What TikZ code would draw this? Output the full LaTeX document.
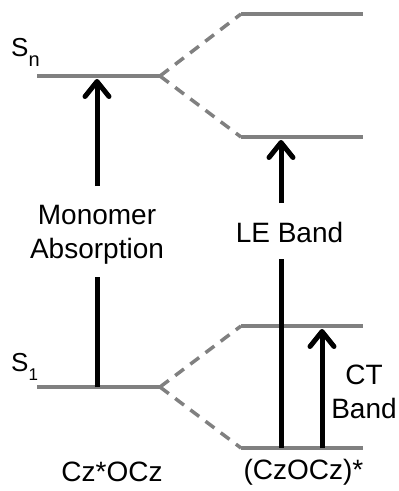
\documentclass[tikz,border=0pt]{standalone}
\usepackage{fontspec}
\setmainfont{Liberation Sans}
\usetikzlibrary{arrows.meta}
\definecolor{lvl}{RGB}{128,128,128}
\begin{document}
\begin{tikzpicture}[x=1pt,y=-1pt,
  level/.style={draw=lvl,line width=4pt},
  split/.style={draw=lvl,line width=3.5pt,dash pattern=on 11pt off 8pt},
  shaft/.style={draw=black,line width=5pt},
  uparrow/.style={shaft,-{Straight Barb[length=15pt,width=24pt,round]}},
  lbl/.style={inner sep=0pt,font=\fontsize{28}{34}\selectfont},
  st/.style={inner sep=0pt,font=\fontsize{26}{30}\selectfont}]
\useasboundingbox (0,0) rectangle (399,491);
% level end points
\coordinate (SnL) at (37,76);   \coordinate (SnR) at (160,76);
\coordinate (TopL) at (241,14); \coordinate (TopR) at (363,14);
\coordinate (LEL) at (241,137); \coordinate (LER) at (363,137);
\coordinate (S1L) at (37,387);  \coordinate (S1R) at (160,387);
\coordinate (CTL) at (241,326); \coordinate (CTR) at (363,326);
\coordinate (BotL) at (241,448);\coordinate (BotR) at (363,448);
% levels
\draw[level] (SnL) -- (SnR);
\draw[level] (TopL) -- (TopR);
\draw[level] (LEL) -- (LER);
\draw[level] (S1L) -- (S1R);
\draw[level] (CTL) -- (CTR);
\draw[level] (BotL) -- (BotR);
% splitting
\draw[split] (SnR) -- (TopL);
\draw[split] (SnR) -- (LEL);
\draw[split] (S1R) -- (CTL);
\draw[split] (S1R) -- (BotL);
% labels
\node[st,anchor=base west] (Sn) at (11,56) {S\raisebox{-10pt}{\fontsize{20}{20}\selectfont n}};
\node[st,anchor=base west] (S1) at (11,371) {S\raisebox{-9pt}{\fontsize{17}{17}\selectfont 1}};
\node[lbl,anchor=north,align=center] (mono) at (97,205) {Monomer\\Absorption};
\node[lbl,anchor=base] (le) at (289.5,242) {LE Band};
\node[lbl,anchor=north,align=center] (ct) at (364,365) {CT\\Band};
\node[lbl,anchor=base] (mon) at (112,481) {Cz*OCz};
\node[lbl,anchor=base] (dim) at (303.5,479) {(CzOCz)*};
% arrows
\coordinate (mA0) at (97,387); \coordinate (mA1) at (97,277);
\coordinate (mA2) at (97,186); \coordinate (mA3) at (97,79);
\draw[shaft] (mA0) -- (mA1);
\draw[uparrow] (mA2) -- (mA3);
\coordinate (lA0) at (281,448); \coordinate (lA1) at (281,259);
\coordinate (lA2) at (281,203); \coordinate (lA3) at (281,140);
\draw[shaft] (lA0) -- (lA1);
\draw[uparrow] (lA2) -- (lA3);
\coordinate (cA0) at (322,448); \coordinate (cA1) at (322,329);
\draw[uparrow] (cA0) -- (cA1);
\end{tikzpicture}
\end{document}
